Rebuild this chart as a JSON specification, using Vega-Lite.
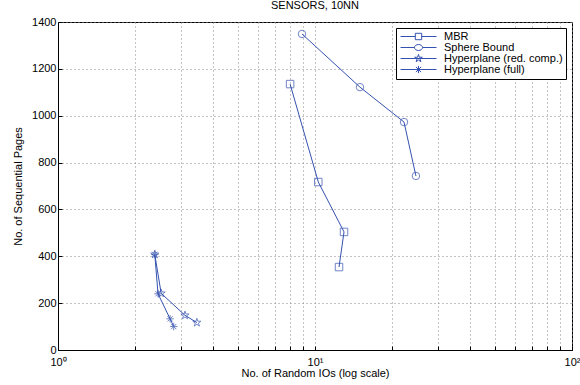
{
  "$schema": "https://vega.github.io/schema/vega-lite/v6.json",
  "autosize": "none",
  "width": 514,
  "height": 328,
  "padding": {"left": 58, "top": 22, "right": 8, "bottom": 35},
  "background": "white",
  "title": {"text": "SENSORS, 10NN", "fontSize": 11, "fontWeight": "normal", "font": "Liberation Sans", "offset": 5, "color": "#000"},
  "config": {
    "font": "Liberation Sans",
    "view": {"stroke": "#000", "strokeWidth": 1},
    "axis": {"labelFont": "Liberation Sans", "titleFont": "Liberation Sans", "labelFontSize": 11, "titleFontSize": 11, "titleFontWeight": "normal", "labelColor": "#000", "titleColor": "#000", "domainColor": "#000", "tickColor": "#000", "gridColor": "#888", "gridDash": [1, 3], "gridOpacity": 1}
  },
  "data": {"values": [
    {"s": "MBR", "x": 8.0, "y": 1135, "i": 1},
    {"s": "MBR", "x": 10.3, "y": 717, "i": 2},
    {"s": "MBR", "x": 12.97, "y": 504, "i": 3},
    {"s": "MBR", "x": 12.4, "y": 354, "i": 4},
    {"s": "Sphere Bound", "x": 8.9, "y": 1349, "i": 1},
    {"s": "Sphere Bound", "x": 14.96, "y": 1122, "i": 2},
    {"s": "Sphere Bound", "x": 22.2, "y": 973, "i": 3},
    {"s": "Sphere Bound", "x": 24.7, "y": 743, "i": 4},
    {"s": "Hyperplane (red. comp.)", "x": 2.38, "y": 408, "i": 1},
    {"s": "Hyperplane (red. comp.)", "x": 2.52, "y": 242, "i": 2},
    {"s": "Hyperplane (red. comp.)", "x": 3.12, "y": 148, "i": 3},
    {"s": "Hyperplane (red. comp.)", "x": 3.47, "y": 117, "i": 4},
    {"s": "Hyperplane (full)", "x": 2.38, "y": 408, "i": 1},
    {"s": "Hyperplane (full)", "x": 2.45, "y": 240, "i": 2},
    {"s": "Hyperplane (full)", "x": 2.73, "y": 133, "i": 3},
    {"s": "Hyperplane (full)", "x": 2.82, "y": 100, "i": 4}
  ]},
  "encoding": {
    "x": {"field": "x", "type": "quantitative", "scale": {"type": "log", "domain": [1, 100]},
      "axis": {"title": "No. of Random IOs (log scale)", "values": [1,2,3,4,5,6,7,8,9,10,20,30,40,50,60,70,80,90,100],
        "labelExpr": "datum.value == 1 ? '10⁰' : datum.value == 10 ? '10¹' : datum.value == 100 ? '10²' : ''",
        "tickSize": -4, "labelPadding": 10, "titlePadding": 0, "labelFlush": false}},
    "y": {"field": "y", "type": "quantitative", "scale": {"domain": [0, 1400], "nice": false},
      "axis": {"title": "No. of Sequential Pages", "values": [0,200,400,600,800,1000,1200,1400], "format": "d", "tickSize": -4, "labelPadding": 6, "titlePadding": 8}}
  },
  "layer": [
    {
      "mark": {"type": "line", "color": "#3552b0", "strokeWidth": 1},
      "encoding": {"detail": {"field": "s"}, "order": {"field": "i"}}
    },
    {
      "mark": {"type": "point", "filled": false, "color": "#3552b0", "strokeWidth": 1, "size": 56},
      "encoding": {
        "shape": {"field": "s", "type": "nominal",
          "scale": {"domain": ["MBR", "Sphere Bound", "Hyperplane (red. comp.)", "Hyperplane (full)"],
            "range": ["M-1,-1L1,-1L1,1L-1,1Z", "circle", "M0,-1.15L0.26,-0.36L1.09,-0.36L0.42,0.14L0.68,0.93L0,0.44L-0.68,0.93L-0.42,0.14L-1.09,-0.36L-0.26,-0.36Z", "M-1,0L1,0M0,-1L0,1M-0.7,-0.7L0.7,0.7M-0.7,0.7L0.7,-0.7"]},
          "legend": null}
      }
    },
    {
      "mark": {"type": "point", "filled": false, "color": "#3552b0", "strokeWidth": 1, "size": 64, "opacity": 0},
      "encoding": {
        "shape": {"field": "s", "type": "nominal",
          "scale": {"domain": ["MBR", "Sphere Bound", "Hyperplane (red. comp.)", "Hyperplane (full)"],
            "range": ["M-1,0L2.7,0M4.3,0L8,0M2.7,-0.8L4.3,-0.8L4.3,0.8L2.7,0.8Z", "M-1,0L2.5,0M4.5,0L8,0M2.5,0A1,0.75,0,1,0,4.5,0A1,0.75,0,1,0,2.5,0Z", "M-1,0L8,0M3.5,-1L3.72,-0.31L4.45,-0.31L3.86,0.12L4.09,0.81L3.5,0.38L2.91,0.81L3.14,0.12L2.55,-0.31L3.28,-0.31Z", "M-1,0L8,0M3.5,-0.9L3.5,0.9M2.85,-0.65L4.15,0.65M2.85,0.65L4.15,-0.65"]},
          "legend": {"title": null, "orient": "top-right", "offset": 6, "strokeColor": "#000", "fillColor": "white", "padding": 3, "symbolSize": 64, "labelOffset": 34, "labelFontSize": 11, "labelFont": "Liberation Sans", "labelColor": "#000", "rowPadding": -1, "symbolStrokeWidth": 1, "symbolStrokeColor": "#3552b0", "symbolOpacity": 1}}
      }
    }
  ],
  "resolve": {"scale": {"shape": "independent"}}
}
